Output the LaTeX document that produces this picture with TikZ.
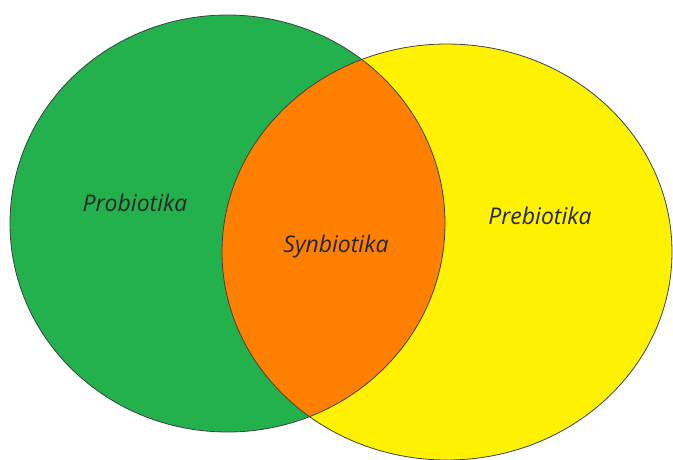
\documentclass[tikz,border=0pt]{standalone}
\usepackage{fontspec}
\setmainfont{Open Sans}
\definecolor{setgreen}{RGB}{34,177,76}
\definecolor{setyellow}{RGB}{255,242,0}
\definecolor{setorange}{RGB}{255,128,0}
\usetikzlibrary{positioning}

\begin{document}
\begin{tikzpicture}[x=1pt, y=-1pt,
    setlabel/.style={font=\fontsize{23}{26}\selectfont\itshape, text=black!85},
    rim/.style={draw=black!75, line width=0.8pt}
  ]
  \useasboundingbox (0,0) rectangle (673,459);

  % the two sets
  \coordinate (gc) at (227.5,223.5);
  \coordinate (yc) at (447,252);
  \fill[setgreen]  (gc) ellipse [x radius=217.5, y radius=208.5];
  \fill[setyellow] (yc) ellipse [x radius=225, y radius=208];

  % overlap
  \begin{scope}
    \clip (gc) ellipse [x radius=217.5, y radius=208.5];
    \fill[setorange] (yc) ellipse [x radius=225, y radius=208];
  \end{scope}
  \draw[rim] (gc) ellipse [x radius=217.5, y radius=208.5];
  \draw[rim] (yc) ellipse [x radius=225, y radius=208];

  % labels
  \node[setlabel] (pro) at (135,203) {Probiotika};
  \node[setlabel] (syn) at (336,247) {Synbiotika};
  \node[setlabel] (pre) at (540,216) {Prebiotika};
\end{tikzpicture}
\end{document}
